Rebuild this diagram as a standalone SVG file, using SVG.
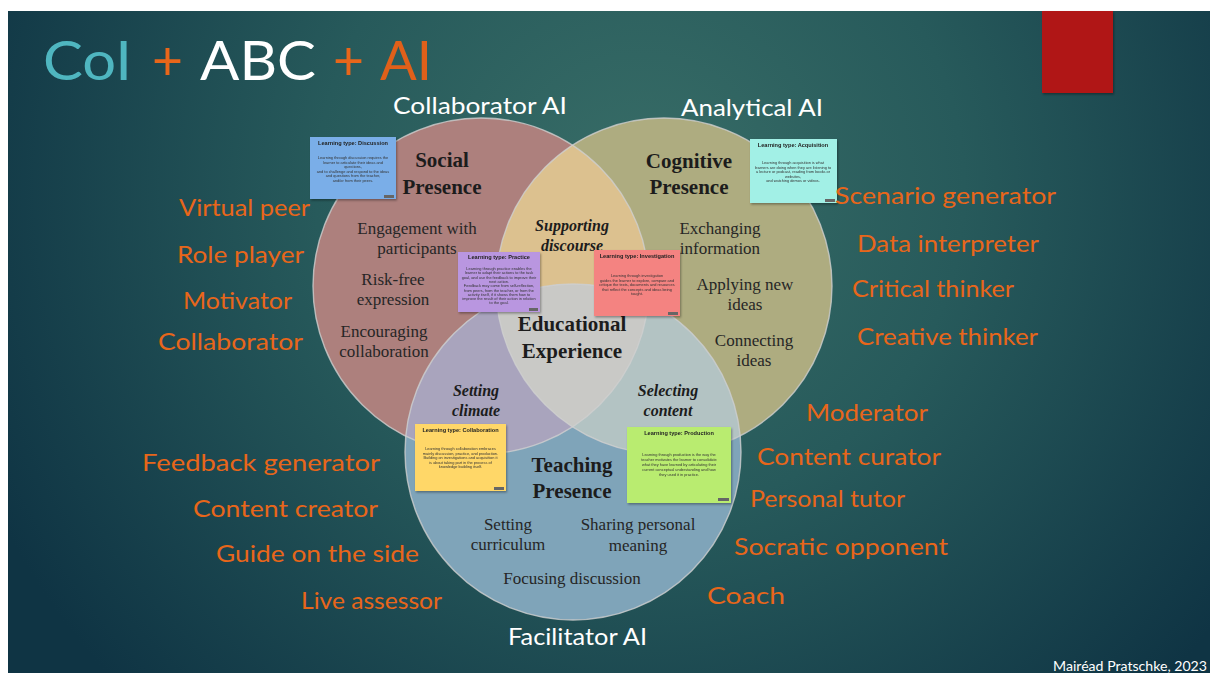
<svg xmlns="http://www.w3.org/2000/svg" width="1210" height="673" viewBox="0 0 1210 673">
<defs>
<radialGradient id="bg" cx="640" cy="190" r="720" gradientUnits="userSpaceOnUse">
<stop offset="0" stop-color="#386d67"/>
<stop offset="0.45" stop-color="#275a5b"/>
<stop offset="1" stop-color="#0f3444"/>
</radialGradient>
<clipPath id="cL"><circle cx="481" cy="286" r="168"/></clipPath>
<clipPath id="cR"><circle cx="664" cy="286" r="168"/></clipPath>
<clipPath id="cB"><circle cx="573" cy="452" r="168"/></clipPath>
<filter id="sh" x="-10%" y="-10%" width="130%" height="130%"><feDropShadow dx="1" dy="1.5" stdDeviation="1" flood-color="#000" flood-opacity="0.35"/></filter>
<style>
.lbl{font-family:Lato,"Liberation Sans",sans-serif;font-size:24px;fill:#e8661a}
.ai{font-family:Lato,"Liberation Sans",sans-serif;font-size:23px;fill:#ffffff}
.ttl{font-family:"Liberation Serif","DejaVu Serif",serif;font-weight:bold;font-size:21px;fill:#1c1c1c;text-anchor:middle}
.it{font-family:"Liberation Serif","DejaVu Serif",serif;font-weight:bold;font-style:italic;font-size:16px;fill:#1c1c1c;text-anchor:middle}
.tx{font-family:"Liberation Serif","DejaVu Serif",serif;font-size:17px;fill:#262626;text-anchor:middle}
.ct{font-family:"Liberation Sans",Arial,sans-serif;font-weight:bold;font-size:5.6px;fill:#222;text-anchor:middle}
.cb{font-family:"Liberation Sans",Arial,sans-serif;font-size:3.9px;fill:#333;text-anchor:middle}
.badge{fill:#666}
.outline{fill:none;stroke:#cfcfcf;stroke-width:1.4;stroke-opacity:0.8}
</style>
</defs>
<rect x="0" y="0" width="1210" height="673" fill="#ffffff"/>
<rect x="8" y="11" width="1202" height="662" fill="url(#bg)"/>
<rect x="1042" y="11" width="71" height="82" fill="#b01414" filter="url(#sh)"/>

<g id="title">
<text x="43" y="80" font-family="Lato,'Liberation Sans',sans-serif" font-size="55" fill="#4fb6c0" textLength="89" lengthAdjust="spacingAndGlyphs">CoI</text>
<text x="152" y="80" font-family="Lato,'Liberation Sans',sans-serif" font-size="55" fill="#e8661a" textLength="31" lengthAdjust="spacingAndGlyphs">+</text>
<text x="200" y="80" font-family="Lato,'Liberation Sans',sans-serif" font-size="55" fill="#ffffff" textLength="116" lengthAdjust="spacingAndGlyphs">ABC</text>
<text x="333" y="80" font-family="Lato,'Liberation Sans',sans-serif" font-size="55" fill="#e8661a" textLength="31" lengthAdjust="spacingAndGlyphs">+</text>
<text x="380" y="80" font-family="Lato,'Liberation Sans',sans-serif" font-size="55" fill="#e0601a" textLength="52" lengthAdjust="spacingAndGlyphs">AI</text>
</g>

<g id="venn">
<g id="social-circle"><circle cx="481" cy="286" r="168" fill="#ad807d"/></g>
<g id="cognitive-circle"><circle cx="664" cy="286" r="168" fill="#aeac80"/></g>
<g id="teaching-circle"><circle cx="573" cy="452" r="168" fill="#7fa4b9"/></g>
<g id="supporting-discourse-area" clip-path="url(#cL)"><circle cx="664" cy="286" r="168" fill="#dcc18f"/></g>
<g id="setting-climate-area" clip-path="url(#cL)"><circle cx="573" cy="452" r="168" fill="#a9a4bd"/></g>
<g id="selecting-content-area" clip-path="url(#cR)"><circle cx="573" cy="452" r="168" fill="#b3c3c3"/></g>
<g clip-path="url(#cL)"><g id="educational-experience-area" clip-path="url(#cR)"><circle cx="573" cy="452" r="168" fill="#c9c9c6"/></g></g>
<circle class="outline" cx="481" cy="286" r="168"/>
<circle class="outline" cx="664" cy="286" r="168"/>
<circle class="outline" cx="573" cy="452" r="168"/>
</g>

<g id="social-presence">
<text class="ttl" x="442" y="167">Social</text>
<text class="ttl" x="442" y="194">Presence</text>
<text class="tx" x="417" y="234">Engagement with</text>
<text class="tx" x="417" y="254">participants</text>
<text class="tx" x="393" y="285">Risk-free</text>
<text class="tx" x="393" y="305">expression</text>
<text class="tx" x="384" y="337">Encouraging</text>
<text class="tx" x="384" y="357">collaboration</text>
</g>
<g id="cognitive-presence">
<text class="ttl" x="689" y="168">Cognitive</text>
<text class="ttl" x="689" y="194">Presence</text>
<text class="tx" x="720" y="234">Exchanging</text>
<text class="tx" x="720" y="254">information</text>
<text class="tx" x="745" y="290">Applying new</text>
<text class="tx" x="745" y="310">ideas</text>
<text class="tx" x="754" y="346">Connecting</text>
<text class="tx" x="754" y="366">ideas</text>
</g>
<g id="supporting-discourse">
<text class="it" x="572" y="231">Supporting</text>
<text class="it" x="572" y="251">discourse</text>
</g>
<g id="educational-experience">
<text class="ttl" x="572" y="331">Educational</text>
<text class="ttl" x="572" y="358">Experience</text>
</g>
<g id="setting-climate">
<text class="it" x="476" y="396">Setting</text>
<text class="it" x="476" y="416">climate</text>
</g>
<g id="selecting-content">
<text class="it" x="668" y="396">Selecting</text>
<text class="it" x="668" y="416">content</text>
</g>
<g id="teaching-presence">
<text class="ttl" x="572" y="472">Teaching</text>
<text class="ttl" x="572" y="498">Presence</text>
<text class="tx" x="508" y="530">Setting</text>
<text class="tx" x="508" y="550">curriculum</text>
<text class="tx" x="638" y="530">Sharing personal</text>
<text class="tx" x="638" y="551">meaning</text>
<text class="tx" x="572" y="584">Focusing discussion</text>
</g>

<g id="card-discussion" filter="url(#sh)">
<rect x="310" y="137" width="86" height="62" fill="#7aaee8"/>
<text class="ct" x="353" y="145">Learning type: Discussion</text>
<text class="cb" x="353" y="159">Learning through discussion requires the</text>
<text class="cb" x="353" y="163.5">learner to articulate their ideas and</text>
<text class="cb" x="353" y="168">questions,</text>
<text class="cb" x="353" y="172.5">and to challenge and respond to the ideas</text>
<text class="cb" x="353" y="177">and questions from the teacher,</text>
<text class="cb" x="353" y="181.5">and/or from their peers.</text>
<rect class="badge" x="384" y="195" width="10" height="3"/>
</g>
<g id="card-acquisition" filter="url(#sh)">
<rect x="750" y="139" width="87" height="64" fill="#a2f0e6"/>
<text class="ct" x="793" y="147">Learning type: Acquisition</text>
<text class="cb" x="793" y="164">Learning through acquisition is what</text>
<text class="cb" x="793" y="168.5">learners are doing when they are listening to</text>
<text class="cb" x="793" y="173">a lecture or podcast, reading from books or</text>
<text class="cb" x="793" y="177.5">websites,</text>
<text class="cb" x="793" y="182">and watching demos or videos.</text>
<rect class="badge" x="825" y="199" width="10" height="3"/>
</g>
<g id="card-practice" filter="url(#sh)">
<rect x="458" y="252" width="82" height="60" fill="#b996e0"/>
<text class="ct" x="499" y="259">Learning type: Practice</text>
<text class="cb" x="499" y="270">Learning through practice enables the</text>
<text class="cb" x="499" y="274.3">learner to adapt their actions to the task</text>
<text class="cb" x="499" y="278.6">goal, and use the feedback to improve their</text>
<text class="cb" x="499" y="282.9">next action.</text>
<text class="cb" x="499" y="287.2">Feedback may come from self-reflection,</text>
<text class="cb" x="499" y="291.5">from peers, from the teacher, or from the</text>
<text class="cb" x="499" y="295.8">activity itself, if it shows them how to</text>
<text class="cb" x="499" y="300.1">improve the result of their action in relation</text>
<text class="cb" x="499" y="304.4">to the goal.</text>
<rect class="badge" x="529" y="308" width="9" height="3"/>
</g>
<g id="card-investigation" filter="url(#sh)">
<rect x="594" y="250" width="86" height="66" fill="#f48381"/>
<text class="ct" x="637" y="258">Learning type: Investigation</text>
<text class="cb" x="637" y="277">Learning through investigation</text>
<text class="cb" x="637" y="281.5">guides the learner to explore, compare and</text>
<text class="cb" x="637" y="286">critique the texts, documents and resources</text>
<text class="cb" x="637" y="290.5">that reflect the concepts and ideas being</text>
<text class="cb" x="637" y="295">taught.</text>
<rect class="badge" x="668" y="312" width="10" height="3"/>
</g>
<g id="card-collaboration" filter="url(#sh)">
<rect x="415" y="424" width="91" height="67" fill="#ffd768"/>
<text class="ct" x="460.5" y="432">Learning type: Collaboration</text>
<text class="cb" x="460.5" y="450">Learning through collaboration embraces</text>
<text class="cb" x="460.5" y="454.5">mainly discussion, practice, and production.</text>
<text class="cb" x="460.5" y="459">Building on investigations and acquisition it</text>
<text class="cb" x="460.5" y="463.5">is about taking part in the process of</text>
<text class="cb" x="460.5" y="468">knowledge building itself.</text>
<rect class="badge" x="494" y="487" width="10" height="3"/>
</g>
<g id="card-production" filter="url(#sh)">
<rect x="627" y="427" width="104" height="76" fill="#b9ec70"/>
<text class="ct" x="679" y="435">Learning type: Production</text>
<text class="cb" x="679" y="456">Learning through production is the way the</text>
<text class="cb" x="679" y="461">teacher motivates the learner to consolidate</text>
<text class="cb" x="679" y="466">what they have learned by articulating their</text>
<text class="cb" x="679" y="471">current conceptual understanding and how</text>
<text class="cb" x="679" y="476">they used it in practice.</text>
<rect class="badge" x="718" y="498" width="11" height="3"/>
</g>

<g id="ai-labels">
<text class="ai" x="393" y="114" textLength="174" lengthAdjust="spacingAndGlyphs">Collaborator AI</text>
<text class="ai" x="681" y="116" textLength="142" lengthAdjust="spacingAndGlyphs">Analytical AI</text>
<text class="ai" x="508" y="645" textLength="139" lengthAdjust="spacingAndGlyphs">Facilitator AI</text>
</g>

<g id="collaborator-roles">
<text class="lbl" x="179" y="216" textLength="131" lengthAdjust="spacingAndGlyphs">Virtual peer</text>
<text class="lbl" x="177" y="263" textLength="127" lengthAdjust="spacingAndGlyphs">Role player</text>
<text class="lbl" x="183" y="309" textLength="109" lengthAdjust="spacingAndGlyphs">Motivator</text>
<text class="lbl" x="158" y="350" textLength="145" lengthAdjust="spacingAndGlyphs">Collaborator</text>
</g>
<g id="analytical-roles">
<text class="lbl" x="835" y="204" textLength="221" lengthAdjust="spacingAndGlyphs">Scenario generator</text>
<text class="lbl" x="857" y="252" textLength="182" lengthAdjust="spacingAndGlyphs">Data interpreter</text>
<text class="lbl" x="852" y="297" textLength="162" lengthAdjust="spacingAndGlyphs">Critical thinker</text>
<text class="lbl" x="857" y="345" textLength="181" lengthAdjust="spacingAndGlyphs">Creative thinker</text>
</g>
<g id="facilitator-roles-right">
<text class="lbl" x="806" y="421" textLength="122" lengthAdjust="spacingAndGlyphs">Moderator</text>
<text class="lbl" x="757" y="465" textLength="184" lengthAdjust="spacingAndGlyphs">Content curator</text>
<text class="lbl" x="750" y="507" textLength="155" lengthAdjust="spacingAndGlyphs">Personal tutor</text>
<text class="lbl" x="734" y="555" textLength="214" lengthAdjust="spacingAndGlyphs">Socratic opponent</text>
<text class="lbl" x="707" y="604" textLength="78" lengthAdjust="spacingAndGlyphs">Coach</text>
</g>
<g id="facilitator-roles-left">
<text class="lbl" x="142" y="471" textLength="238" lengthAdjust="spacingAndGlyphs">Feedback generator</text>
<text class="lbl" x="193" y="517" textLength="185" lengthAdjust="spacingAndGlyphs">Content creator</text>
<text class="lbl" x="216" y="562" textLength="203" lengthAdjust="spacingAndGlyphs">Guide on the side</text>
<text class="lbl" x="301" y="609" textLength="141" lengthAdjust="spacingAndGlyphs">Live assessor</text>
</g>

<text x="1053" y="671" font-family="Lato,'Liberation Sans',sans-serif" font-size="13.5" fill="#ffffff" textLength="154" lengthAdjust="spacingAndGlyphs">Mairéad Pratschke, 2023</text>
</svg>
